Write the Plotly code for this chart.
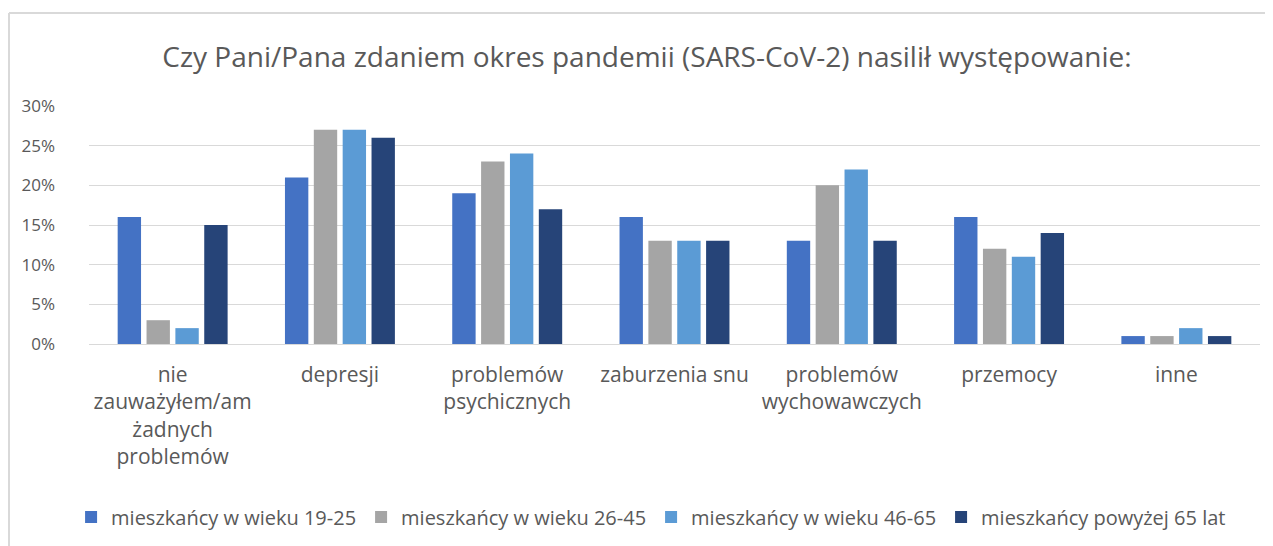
import plotly.graph_objects as go

categories = [
    "nie<br>zauważyłem/am<br>żadnych<br>problemów",
    "depresji",
    "problemów<br>psychicznych",
    "zaburzenia snu",
    "problemów<br>wychowawczych",
    "przemocy",
    "inne",
]
series_names = [
    "mieszkańcy w wieku 19-25",
    "mieszkańcy w wieku 26-45",
    "mieszkańcy w wieku 46-65",
    "mieszkańcy powyżej 65 lat",
]
v_19_25 = [16, 21, 19, 16, 13, 16, 1]
v_26_45 = [3, 27, 23, 13, 20, 12, 1]
v_46_65 = [2, 27, 24, 13, 22, 11, 2]
v_65p = [15, 26, 17, 13, 13, 14, 1]
colors = ["#4472C4", "#A5A5A5", "#5B9BD5", "#264478"]
y_ticks = [0, 5, 10, 15, 20, 25, 30]

FONT = "Open Sans, Liberation Sans, sans-serif"
TXT = "#595959"

fig = go.Figure()
for name, vals, c in zip(series_names, [v_19_25, v_26_45, v_46_65, v_65p], colors):
    fig.add_trace(go.Bar(x=categories, y=vals, name=name, marker=dict(color=c, line=dict(width=0))))

# page body has an 8px margin, so the figure is 8px smaller and shifted
fig.update_layout(
    width=1265, height=538,
    margin=dict(l=81, r=13, t=98, b=202, autoexpand=False),
    paper_bgcolor="white", plot_bgcolor="white",
    barmode="group", bargap=0.31, bargroupgap=0.19,
    title=dict(text="Czy Pani/Pana zdaniem okres pandemii (SARS-CoV-2) nasilił występowanie:",
               x=0.4765, xref="paper", xanchor="center", y=0.909, yanchor="middle",
               font=dict(family=FONT, size=28, color=TXT)),
    font=dict(family=FONT, color=TXT),
    legend=dict(orientation="h", x=0.4800, xanchor="center", xref="paper", y=-0.727, yanchor="middle",
                font=dict(family=FONT, size=20, color=TXT), itemwidth=30, tracegroupgap=0,
                bgcolor="rgba(0,0,0,0)"),
    xaxis=dict(tickfont=dict(family=FONT, size=21, color=TXT), showgrid=False, showline=False,
               ticks="", tickangle=0, automargin=False, ticklabelstandoff=16),
    yaxis=dict(range=[0, 30], tickvals=y_ticks, ticktext=[f"{t}%" for t in y_ticks],
               tickfont=dict(family=FONT, size=17, color=TXT), showgrid=True, gridcolor="#D9D9D9",
               gridwidth=1, zeroline=True, zerolinecolor="#D9D9D9", zerolinewidth=1,
               showline=False, ticks="", ticklabelstandoff=33, automargin=False),
    showlegend=True,
)
# chart outer frame (top and left edges)
fig.add_shape(type="line", xref="paper", yref="paper", x0=-0.0683, x1=1.02, y0=1.391, y1=1.391,
              line=dict(color="#D9D9D9", width=2))
fig.add_shape(type="line", xref="paper", yref="paper", x0=-0.0683, x1=-0.0683, y0=1.391, y1=-0.9,
              line=dict(color="#D9D9D9", width=2))

fig.write_html("out.html")
